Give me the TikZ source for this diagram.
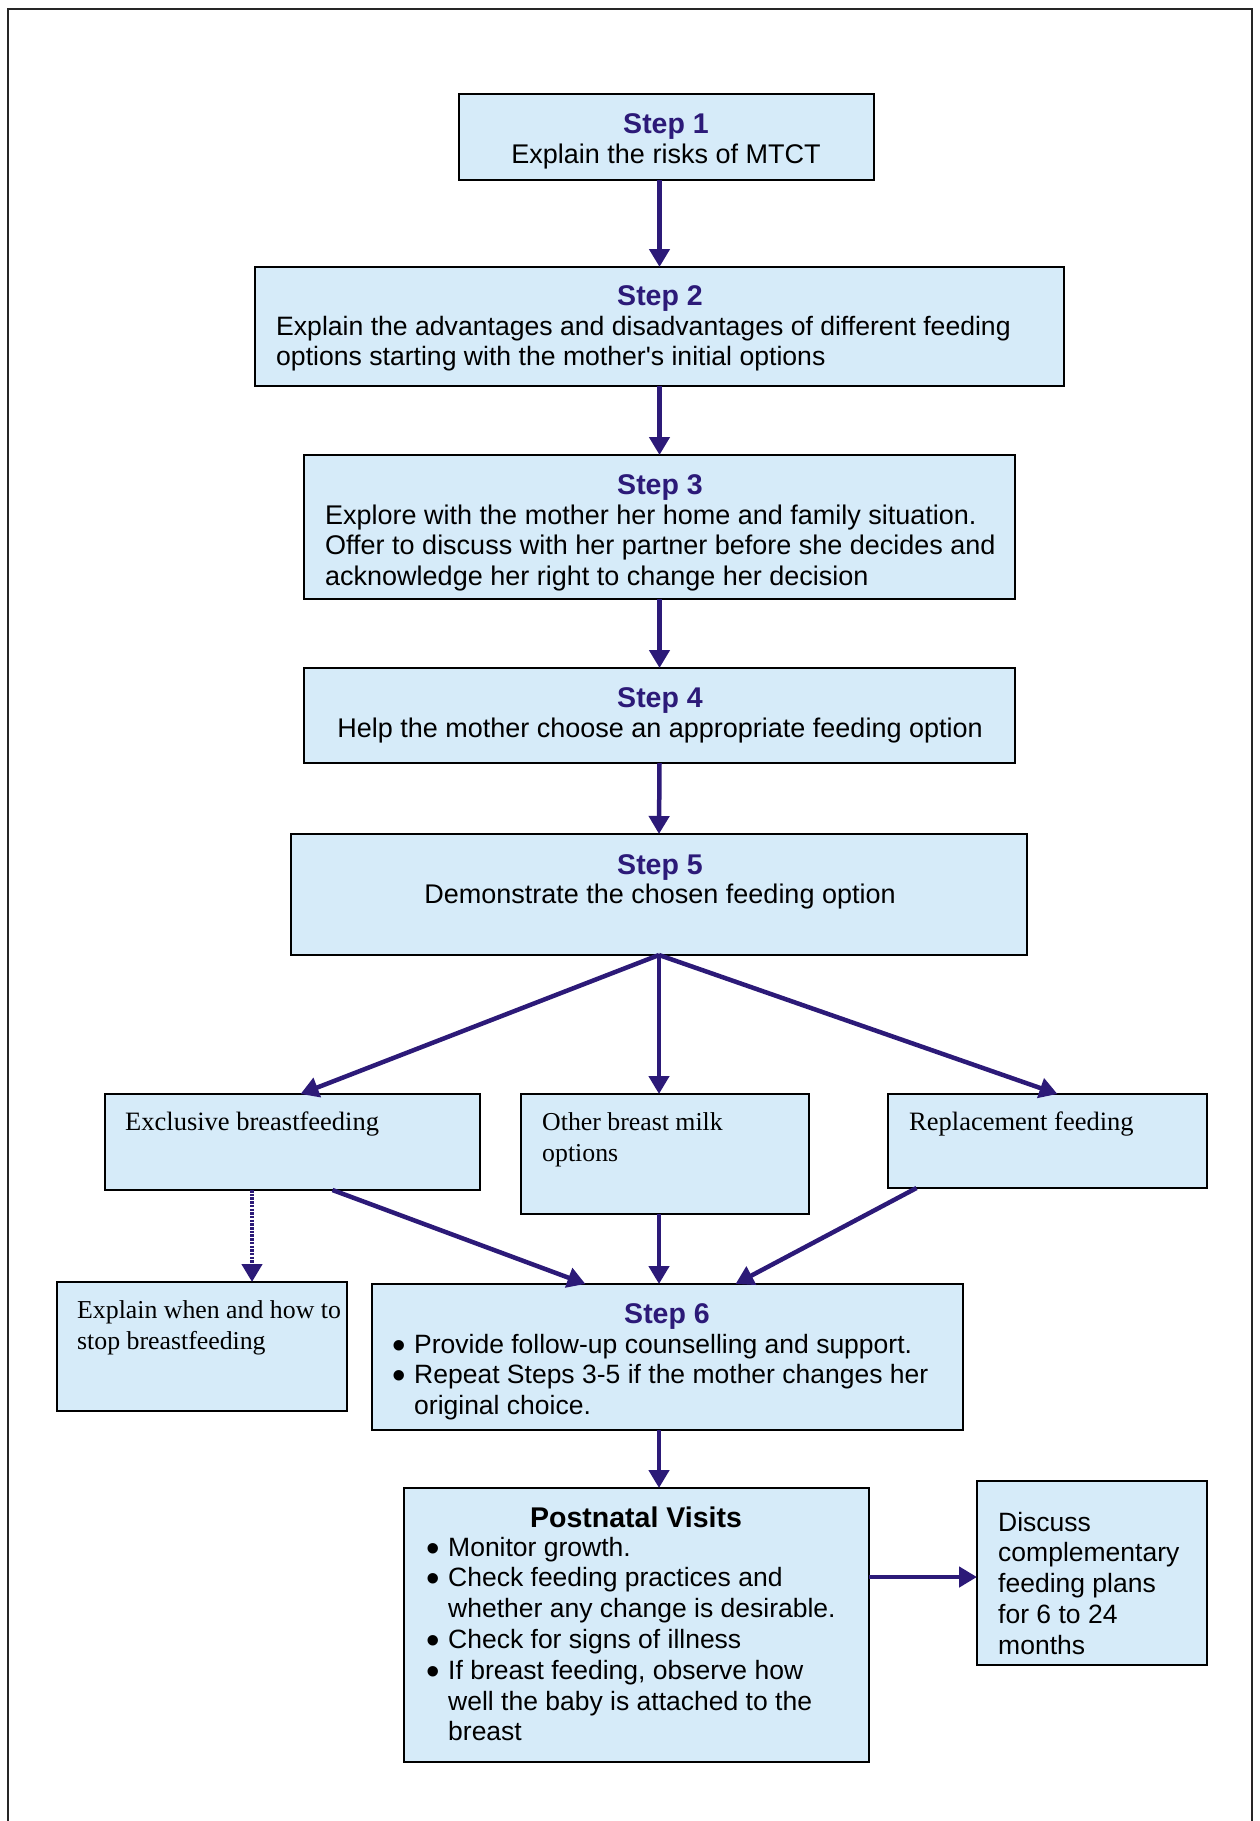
\documentclass[tikz,border=0pt]{standalone}
\usepackage{fontspec}
\setmainfont{Liberation Serif}
\setsansfont{Liberation Sans}
\usetikzlibrary{arrows.meta,calc,shadows}
\definecolor{boxfill}{RGB}{214,235,249}
\definecolor{ink}{RGB}{44,26,120}
% list bullet and hanging indent for continuation lines
\newcommand\blt{\makebox[22pt][l]{\raisebox{-5pt}{\scalebox{1.45}{•}}}}
\newcommand\hang{\hspace*{22pt}}
\tikzset{
  box/.style={draw=black, line width=1.6pt, fill=boxfill, anchor=north west,
    inner sep=0pt, outer sep=0pt,
    drop shadow={shadow xshift=1.3pt, shadow yshift=-1.3pt, fill=black!55, opacity=1}},
  ttl/.style={font=\sffamily\bfseries\fontsize{28.5}{31}\selectfont, text=ink, inner sep=0pt, anchor=base},
  sb/.style={font=\sffamily\fontsize{27}{30.8}\selectfont, inner sep=0pt},
  sbs/.style={font=\sffamily\fontsize{26.5}{30.8}\selectfont, inner sep=0pt, anchor=base west, align=flush left},
  sbl/.style={sb, anchor=base west, align=flush left},
  rb/.style={font=\rmfamily\fontsize{26.5}{31}\selectfont, inner sep=0pt, anchor=base west, align=flush left},
  rbs/.style={rb, font=\rmfamily\fontsize{25.8}{31}\selectfont},
  arr/.style={draw=ink, line width=4.5pt, -{Triangle[width=20pt,length=18pt]}},
  darr/.style={arr, dash pattern=on 2.5pt off 1.2pt},
}
\begin{document}
\begin{tikzpicture}[x=1pt,y=-1pt]
\useasboundingbox (0,0) rectangle (1260,1821);
% page frame, open at the bottom
\draw[line width=2.2pt, black!85] (8,1821) -- (8,9) -- (1252,9) -- (1252,1821);

% boxes
\node[box, minimum width=415pt, minimum height=86pt]  (s1) at (459,94) {};
\node[box, minimum width=809pt, minimum height=119pt] (s2) at (255,267) {};
\node[box, minimum width=711pt, minimum height=144pt] (s3) at (304,455) {};
\node[box, minimum width=711pt, minimum height=95pt]  (s4) at (304,668) {};
\node[box, minimum width=736pt, minimum height=121pt] (s5) at (291,834) {};
\node[box, minimum width=375pt, minimum height=96pt]  (ex) at (105,1094) {};
\node[box, minimum width=288pt, minimum height=120pt] (ot) at (521,1094) {};
\node[box, minimum width=319pt, minimum height=94pt]  (rp) at (888,1094) {};
\node[box, minimum width=290pt, minimum height=129pt] (st) at (57,1282) {};
\node[box, minimum width=591pt, minimum height=146pt] (s6) at (372,1284) {};
\node[box, minimum width=465pt, minimum height=274pt] (pv) at (404,1488) {};
\node[box, minimum width=230pt, minimum height=184pt] (dc) at (977,1481) {};

% texts
\node[ttl] (t1) at (666,133) {Step 1};
\node[sb, anchor=base] (b1) at (666,163) {Explain the risks of MTCT};

\node[ttl] (t2) at (660,305) {Step 2};
\node[sbl, text width=800pt, font=\sffamily\fontsize{26.6}{30.8}\selectfont] (b2) at (276,335)
  {Explain the advantages and disadvantages of different feeding\\ options starting with the mother\textquotesingle s initial options};

\node[ttl] (t3) at (660,494) {Step 3};
\node[sbl, text width=700pt] (b3) at (325,524)
  {Explore with the mother her home and family situation.\\ Offer to discuss with her partner before she decides and\\ acknowledge her right to change her decision};

\node[ttl] (t4) at (660,707) {Step 4};
\node[sb, anchor=base] (b4) at (660,737) {Help the mother choose an appropriate feeding option};

\node[ttl] (t5) at (660,874) {Step 5};
\node[sb, anchor=base] (b5) at (660,903) {Demonstrate the chosen feeding option};

\node[rb] (tex) at (125,1130) {Exclusive breastfeeding};
\node[rbs, text width=260pt] (tot) at (542,1130) {Other breast milk\\ options};
\node[rb] (trp) at (909,1130) {Replacement feeding};
\node[rbs, text width=265pt] (tst) at (77,1318) {Explain when and how to\\ stop breastfeeding};

\node[ttl] (t6) at (667,1323) {Step 6};
\node[sbs, text width=560pt] (b6) at (392,1353)
  {\blt Provide follow-up counselling and support.\\
   \blt Repeat Steps 3-5 if the mother changes her\\
   \hang original choice.};

\node[ttl, text=black] (tpv) at (636,1527) {Postnatal Visits};
\node[sbs, text width=436pt] (bpv) at (426,1556)
  {\blt Monitor growth.\\
   \blt Check feeding practices and\\
   \hang whether any change is desirable.\\
   \blt Check for signs of illness\\
   \blt If breast feeding, observe how\\
   \hang well the baby is attached to the\\
   \hang breast};

\node[sbs, text width=205pt] (bdc) at (998,1531)
  {Discuss\\ complementary\\ feeding plans\\ for 6 to 24\\ months};

% connectors
\draw[arr] (s2.north |- s1.south) -- (s2.north);
\draw[arr] (s2.south) -- (s3.north);
\draw[arr] (s3.south) -- (s4.north);
\draw[arr] (s4.south) -- (s5.north);
\draw[arr] (s5.south) -- ($(ex.north)+(8,0)$);
\draw[arr] (s5.south) -- (s5.south |- ot.north);
\draw[arr] (s5.south) -- ($(rp.north)+(10,0)$);
\coordinate (dtop) at ($(st.north)+(50,0)$);
\draw[darr] (dtop |- ex.south) -- (dtop);
\draw[arr] ($(ex.south)+(40,0)$) -- ($(s6.north)+(-82,0)$);
\draw[arr] (s5.south |- ot.south) -- (s5.south |- s6.north);
\draw[arr] ($(rp.south)+(-131,0)$) -- ($(s6.north)+(68,0)$);
\draw[arr] (s5.south |- s6.south) -- (s5.south |- pv.north);
\coordinate (dcin) at ($(dc.west)+(0,4)$);
\draw[arr] (pv.east |- dcin) -- (dcin);
\end{tikzpicture}
\end{document}
